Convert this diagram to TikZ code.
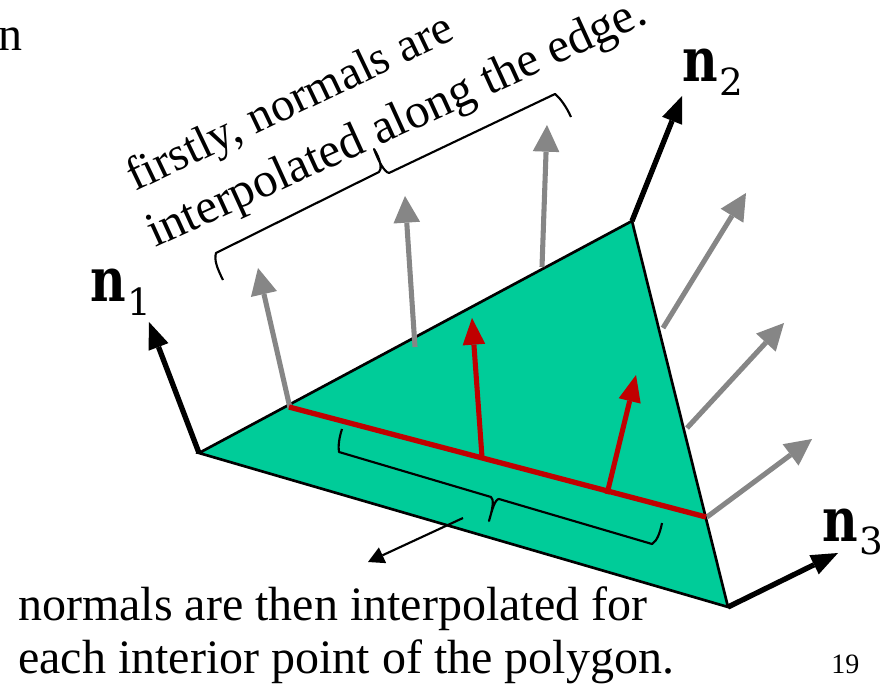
\documentclass[tikz,border=0pt]{standalone}
\usepackage[no-math]{fontspec}
\setmainfont{Liberation Serif}
\newfontfamily\nfont{DejaVu Serif}
\usetikzlibrary{arrows.meta}
\definecolor{tealfill}{RGB}{0,204,153}
\definecolor{grayarrow}{RGB}{134,134,134}
\definecolor{redarrow}{RGB}{192,0,0}
\newcommand{\nlab}[1]{\scalebox{1.02}[1.27]{\nfont\bfseries\fontsize{36}{36}\selectfont n}\kern1pt\raisebox{-10pt}{\fontsize{28}{28}\selectfont\nfont #1}}
\tikzset{
  normalb/.style={draw=black,line width=4pt,-{Triangle[length=20pt,width=16pt,line width=0pt]}},
  normalg/.style={draw=grayarrow,line width=3.8pt,-{Triangle[length=20pt,width=20pt,line width=0pt]}},
  normalr/.style={draw=redarrow,line width=3.8pt,-{Triangle[length=20pt,width=17pt,line width=0pt]}},
  bracel/.style={draw=black,line width=1.6pt,line join=round},
  txt/.style={inner sep=0pt,font=\fontsize{36}{36}\selectfont,anchor=base west},
  rtxt/.style={inner sep=0pt,font=\fontsize{35.5}{35.5}\selectfont,anchor=base west,rotate=25.5},
  rtxtb/.style={inner sep=0pt,font=\fontsize{36.7}{36.7}\selectfont,anchor=base west,rotate=24.5},
  lab/.style={inner sep=0pt,font=\fontsize{32}{32}\selectfont,anchor=base west}
}
\begin{document}
\begin{tikzpicture}[x=0.75pt,y=-0.75pt]
\useasboundingbox (0,0) rectangle (889,684);
\coordinate (A) at (199,453);
\coordinate (B) at (632,221);
\coordinate (C) at (728,607);
\coordinate (n1) at (149,322);
\coordinate (n2) at (682,96);
\coordinate (n3) at (838,553);
\draw[fill=tealfill,line width=2pt,line join=miter] (A) -- (B) -- (C) -- cycle;
\draw[normalb] (A) -- (n1);
\draw[normalb] (B) -- (n2);
\draw[normalb] (C) -- (n3);
\coordinate (g1a) at (290,408); \coordinate (g1b) at (258,268);
\coordinate (g2a) at (415,347); \coordinate (g2b) at (405,196);
\coordinate (g3a) at (542,267); \coordinate (g3b) at (547,125);
\coordinate (g4a) at (663,328); \coordinate (g4b) at (746,193);
\coordinate (g5a) at (687,428); \coordinate (g5b) at (784,323);
\coordinate (g6a) at (707,517); \coordinate (g6b) at (812,439);
\foreach \i in {1,...,6} \draw[normalg] (g\i a) -- (g\i b);
\coordinate (r0) at (289,407); \coordinate (r1) at (706,517);
\coordinate (r2a) at (482,457); \coordinate (r2b) at (472,318);
\coordinate (r3a) at (607,494); \coordinate (r3b) at (636,375);
\draw[draw=redarrow,line width=4pt] (r0) -- (r1);
\draw[normalr] (r2a) -- (r2b);
\draw[normalr] (r3a) -- (r3b);
% top brace
\draw[bracel] (223,280) .. controls (217,268) and (214,260) .. (216,253) -- (379,172)
  .. controls (382,170) and (381,160) .. (374,149)
  .. controls (378,160) and (384,172) .. (389,173) -- (555,94)
  .. controls (560,98) and (566,106) .. (571,117);
% bottom brace
\draw[bracel] (342,429) .. controls (339,438) and (338,447) .. (339,452) -- (491,497)
  .. controls (494,499) and (493,508) .. (489,521)
  .. controls (492,510) and (495,499) .. (499,499) -- (652,544)
  .. controls (657,541) and (660,533) .. (662,523);
\coordinate (t0) at (463,518); \coordinate (t1) at (368,562);
\draw[line width=1.6pt,-{Triangle[length=12pt,width=13pt,line width=0pt]}] (t0) -- (t1);
% text
\node[rtxt] (t1a) at (135,192) {firstly, normals are};
\node[rtxtb] (t1b) at (155,248) {interpolated along the edge.};
\node[txt] (t2a) at (18,620) {normals are then interpolated for};
\node[txt] (t2b) at (18,673) {each interior point of the polygon.};
\node[inner sep=0pt,font=\fontsize{21}{21}\selectfont,anchor=base west] (num) at (831,673) {19};
\node[txt] (l0) at (-2,51) {n};
\node[lab] (ln1) at (90,302) {\nlab{1}};
\node[lab] (ln2) at (682,82) {\nlab{2}};
\node[lab] (ln3) at (822,541) {\nlab{3}};
\end{tikzpicture}
\end{document}
